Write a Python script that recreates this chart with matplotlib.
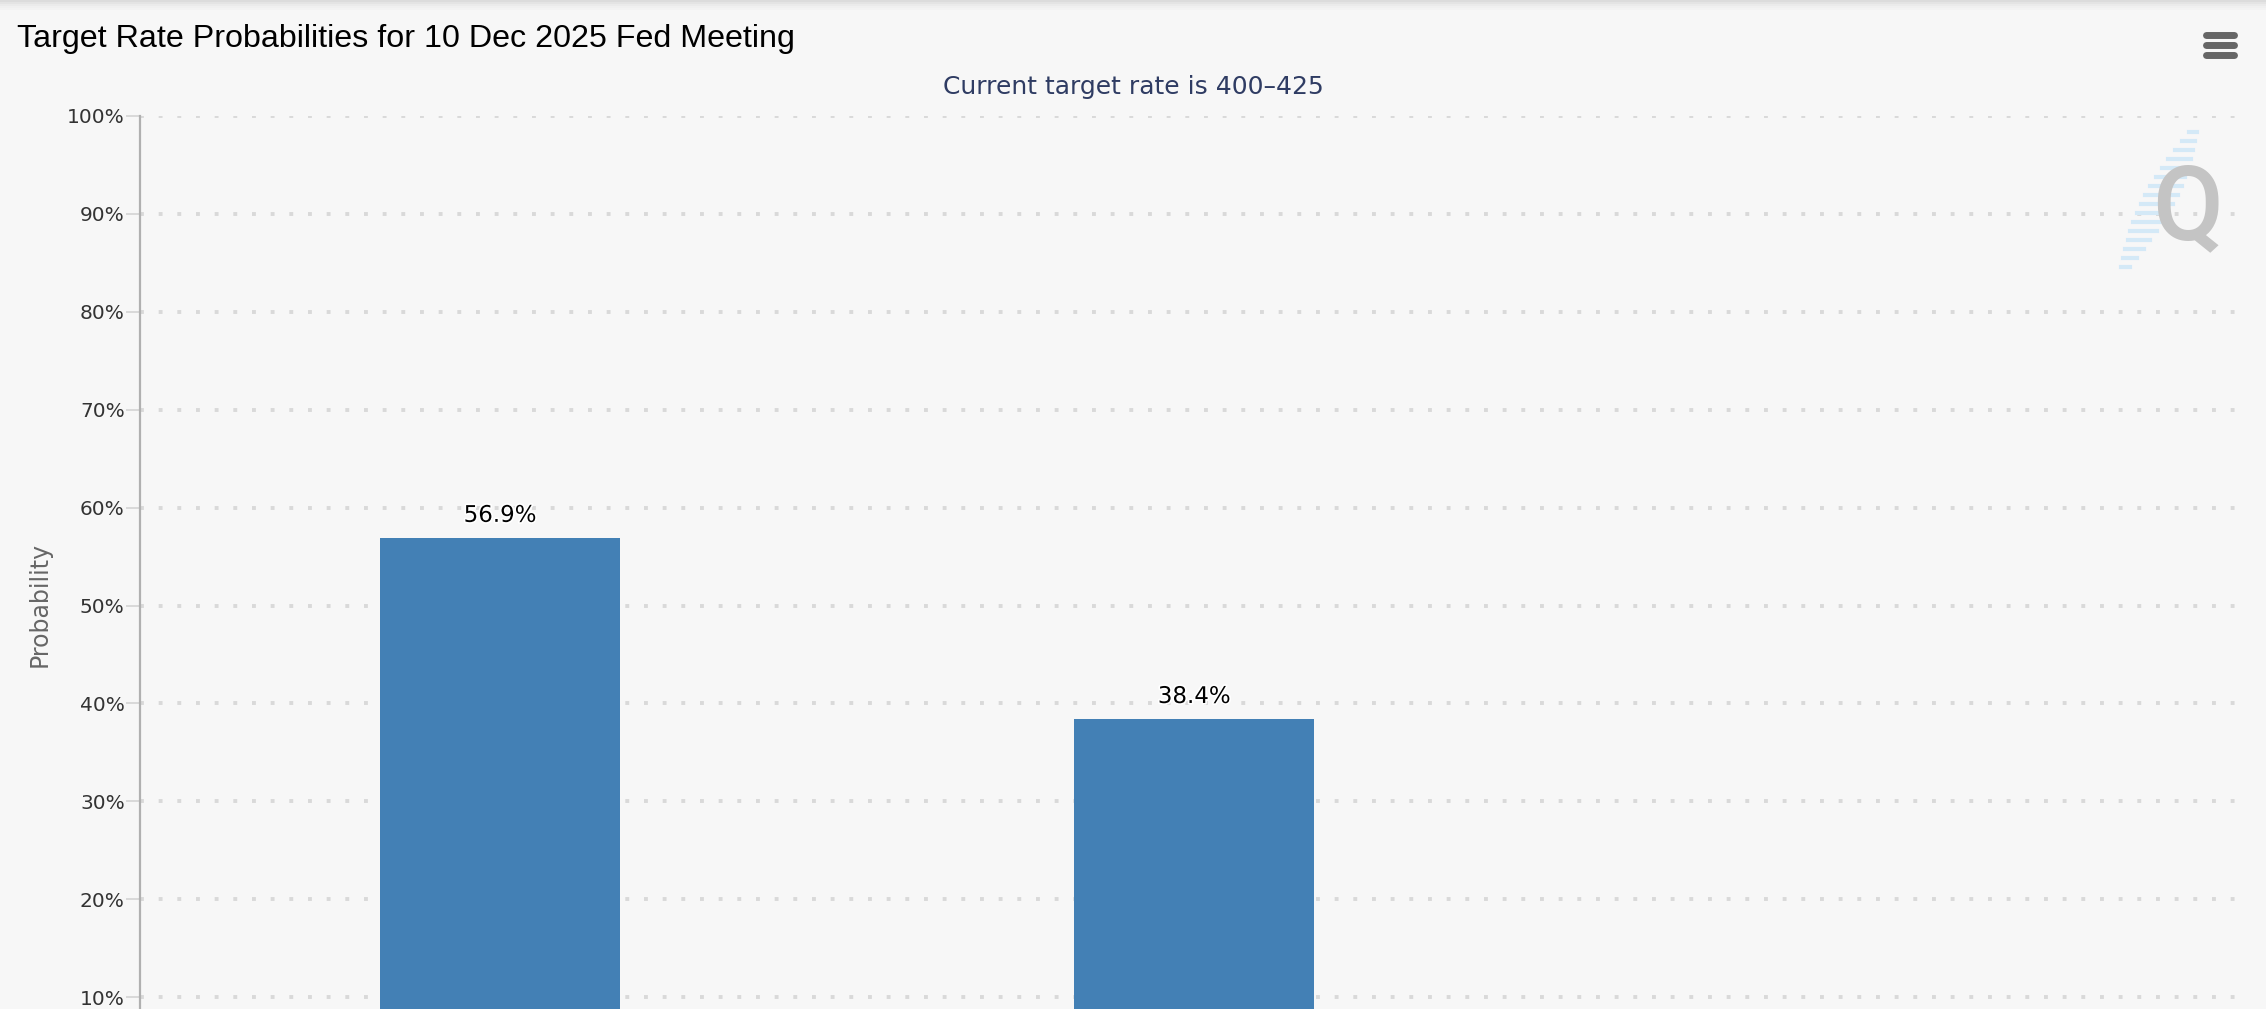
import numpy as np
import matplotlib
matplotlib.use('Agg')
from matplotlib import pyplot as plt
from matplotlib import patheffects as pe
from matplotlib.patches import Rectangle

# CME FedWatch style chart: target rate probabilities (bottom of chart is cut off)
categories = ['350-375', '375-400', '400-425']
probs = [56.9, 38.4, 4.7]
y_ticks = [0, 10, 20, 30, 40, 50, 60, 70, 80, 90, 100]

title = 'Target Rate Probabilities for 10 Dec 2025 Fed Meeting'
subtitle = 'Current target rate is 400\u2013425'

W, H = 2266, 1009
bg = '#f7f7f7'
bar_color = '#4380b5'

fig = plt.figure(figsize=(W / 100, H / 100), dpi=100)
fig.patch.set_facecolor(bg)

# plot area in pixels: x 140..2240, 100% at y=116, 0% at y=1095 (below the crop)
ax = fig.add_axes([140 / W, (H - 1095) / H, 2100 / W, (1095 - 116) / H])
ax.set_facecolor('none')

x = np.arange(len(categories))
bars = ax.bar(x, probs, width=0.346, color=bar_color, zorder=3)
for b, v in zip(bars, probs):
    if v < 10:
        continue  # label would sit below the visible crop
    ax.annotate(f'{v:.1f}%', (b.get_x() + b.get_width() / 2, v),
                xytext=(0, 8), textcoords='offset points',
                ha='center', va='bottom', fontsize=16.5, color='black',
                family='DejaVu Sans', zorder=4,
                path_effects=[pe.withStroke(linewidth=2.5, foreground='white')])

ax.set_xlim(-0.519, 2.507)
ax.set_ylim(0, 100)
ax.set_yticks(y_ticks)
ax.set_yticklabels([f'{t}%' for t in y_ticks])
ax.set_xticks([])

for s in ['top', 'right', 'bottom']:
    ax.spines[s].set_visible(False)
ax.spines['left'].set_color('#b0b0b0')
ax.spines['left'].set_linewidth(1.6)
ax.tick_params(axis='y', length=10, width=1.3, color='#d6d6d6', pad=1,
               labelsize=14.5, labelcolor='#333333')

ax.yaxis.grid(True, color='#d9d9d9', linewidth=2.8, dashes=(1.0, 3.8), zorder=0)
ax.set_axisbelow(True)

fig.text(40 / W, 1 - 604 / H, 'Probability', rotation=90, ha='center', va='center',
         fontsize=17, color='#666666')

fig.text(17 / W, 1 - 39 / H, title, ha='left', va='center', fontsize=23.2,
         family='Liberation Sans', color='black')
fig.text(W / 2 / W, 1 - 87 / H, subtitle, ha='center', va='center', fontsize=18,
         color='#2f3c63')

# hamburger menu icon
for yy in [35, 45, 55]:
    fig.add_artist(plt.Line2D([2206 / W, 2234 / W], [1 - yy / H, 1 - yy / H],
                              color='#666666', linewidth=5, solid_capstyle='round'))

# watermark: light blue streaks and a grey Q
for yy in range(132, 275, 9):
    t = (yy - 128) / (272 - 128)
    cx = 2195 - t * 72
    ln = 5 + 28 * np.sin(np.pi * t)
    fig.add_artist(plt.Line2D([(cx - ln / 2) / W, (cx + ln / 2) / W],
                              [1 - yy / H, 1 - yy / H], color='#d4e9f7',
                              linewidth=3))
fig.text(2188 / W, 1 - 211 / H, 'Q', ha='center', va='center', fontsize=74,
         family='Roboto', weight='medium', color='#c4c4c4')

# soft shadow along the very top
for k, c in enumerate(['#dcdcdc', '#e4e4e4', '#ebebeb', '#f0f0f0', '#f3f3f3']):
    fig.add_artist(Rectangle((0, 1 - (k + 1) * 2 / H), 1, 2 / H,
                             transform=fig.transFigure, color=c, lw=0))

fig.savefig('out.png', dpi=100, facecolor=bg)
